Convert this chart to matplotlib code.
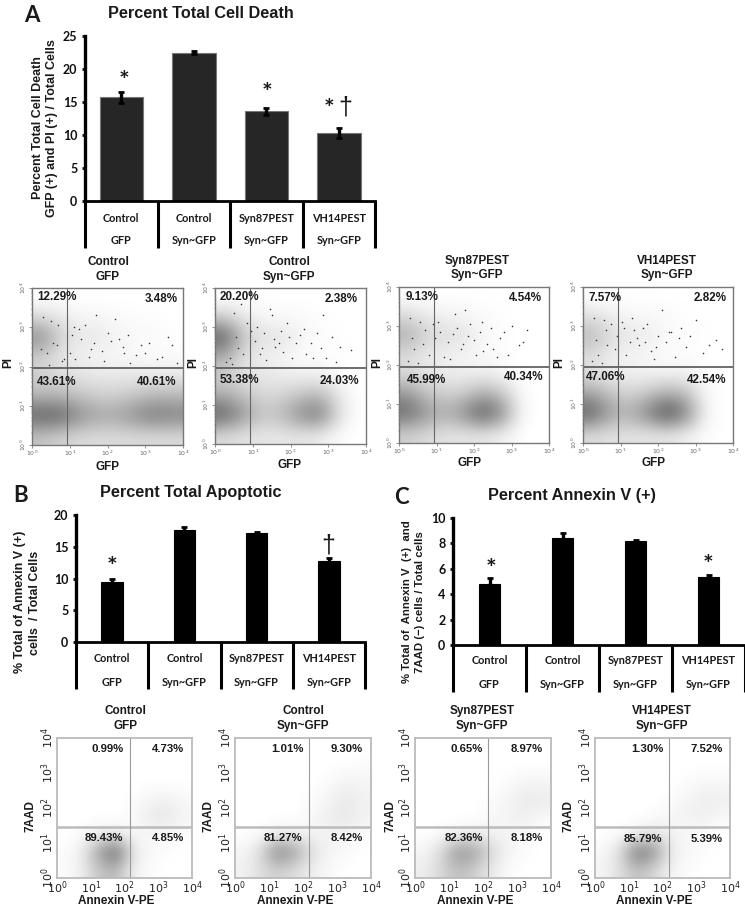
import matplotlib
matplotlib.use('Agg')
import matplotlib.pyplot as plt
from matplotlib.colors import LinearSegmentedColormap
import numpy as np

W, H = 745, 907
ARIAL = 'Liberation Sans'
CALIBRI = 'Lato'
plt.rcParams['mathtext.default'] = 'regular'

# bar charts
cat_top = ['Control', 'Control', 'Syn87PEST', 'VH14PEST']
cat_bottom = ['GFP', 'Syn~GFP', 'Syn~GFP', 'Syn~GFP']
death_vals = [15.7, 22.5, 13.6, 10.3]
death_errs = [0.8, 0.3, 0.5, 0.8]
apop_vals = [9.5, 17.6, 17.1, 12.8]
apop_errs = [0.5, 0.5, 0.3, 0.4]
annex_vals = [4.8, 8.4, 8.15, 5.35]
annex_errs = [0.45, 0.45, 0.1, 0.2]

# flow plots, PI vs GFP
pi_pct = [['12.29%', '3.48%', '43.61%', '40.61%'],
          ['20.20%', '2.38%', '53.38%', '24.03%'],
          ['9.13%', '4.54%', '45.99%', '40.34%'],
          ['7.57%', '2.82%', '47.06%', '42.54%']]
pi_gate_x = [0.93, 0.93, 0.93, 0.93]
pi_gate_y = [1.95, 1.95, 1.95, 1.95]

# estimated darkness of the dot clouds, half decade cells, top row first
pi_density = [
    [[0, 0, 0, 0, 0, 0, 0, 0],
     [1.5, 1, .4, .4, .2, .1, .1, 0],
     [5, 2, 1, 1, .5, .3, .2, .1],
     [2, 1, .6, .4, .3, .2, .1, .1],
     [2, 1.5, 1.2, 1, 1, 1, 1, 1],
     [3, 3, 2.5, 2, 2, 2.5, 3, 3],
     [7, 7, 5, 4, 4, 5, 6, 5.5],
     [2.5, 2, 1.5, 1.5, 1.5, 1.5, 1.5, 1.5]],
    [[0, 0, 0, 0, 0, 0, 0, 0],
     [2, 1, .3, .3, .2, .1, 0, 0],
     [7, 2.5, 1.2, 1.2, .5, .1, .1, 0],
     [3.5, 1.2, .7, .4, .1, .1, .1, 0],
     [2, 1.2, 1, .8, .6, .6, .2, 0],
     [3.5, 2.5, 1.6, 1.8, 2.5, 3, 1, 0],
     [7, 4.5, 2.5, 3, 5, 6, 1.5, 0],
     [1.5, 1.2, 1, 1, 1, .8, .1, 0]],
    [[0, 0, 0, 0, 0, 0, 0, 0],
     [1.5, .8, .5, .4, .2, .1, 0, 0],
     [3.5, 1.8, 1.5, 1.2, .3, .1, 0, 0],
     [1.5, .8, .6, .4, .2, .1, 0, 0],
     [1.5, 1, .8, .7, .7, .4, 0, 0],
     [4.5, 2.5, 2, 2.2, 3.5, 2.5, .2, 0],
     [6.5, 4.5, 3.5, 5, 7.5, 5, .3, 0],
     [2, 1.5, 1.2, 1, 1, .6, 0, 0]],
    [[0, 0, 0, 0, 0, 0, 0, 0],
     [1.2, .7, .3, .3, .2, .1, 0, 0],
     [3, 1.5, 1, .8, .2, .1, .1, 0],
     [1.5, .7, .5, .3, .1, .1, 0, 0],
     [1.2, .8, .6, .5, .5, .5, .1, 0],
     [4, 2.5, 1.8, 2.5, 3.5, 2.8, .3, 0],
     [7, 4, 3.5, 5.5, 8, 5.5, .5, 0],
     [1.5, 1.2, 1.2, 1, 1, .6, .1, 0]]]

# single cells picked out in the sparse upper part of each plot, log10 units
pi_dots_x = [[1.7, 2.2, 2.55, 2.9, 3.1, 3.45, 3.6, 1.3, 1.55, 2.0, 2.4, 2.75, 3.3, 1.9, 2.6, 1.1, 1.4, 1.15, 3.0, 2.1,
              .3, .5, .7, .85, .4, .65, 1.05, 1.25, 1.65, 1.85, 2.3, .25, .55, .8, 1.0, .45, 3.7, 3.85, 2.45, 1.5],
             [1.45, 1.9, 2.35, 2.7, 2.85, 3.1, 3.3, 1.2, 1.6, 2.05, 2.25, 2.8, 1.75, 1.35, 2.55, 1.5, 1.1, 2.95, 3.6, 3.2,
              .5, .7, .85, .4, .6, 1.05, 1.3, 1.55, 1.8, 2.15, 2.4, .3, .75, .95, .55, 1.7, 1.95, 2.6, .45, 1.25],
             [1.5, 1.9, 2.2, 2.45, 2.8, 3.0, 3.3, 3.4, 1.2, 1.65, 2.05, 2.35, 2.6, 1.75, 1.35, 1.05, 2.9, 3.2, 1.45, 2.7,
              .3, .55, .8, .4, .65, .95, 1.1, 1.3, 1.55, 1.85, 2.15, 2.5, .25, .7, .9, .5, 1.7, 2.0, 2.25, .35],
             [1.3, 1.7, 2.1, 2.35, 2.6, 3.0, 3.35, 3.55, 1.15, 1.5, 1.9, 2.2, 2.45, 3.2, 1.35, 1.05, 2.75, 3.7, 1.6, 2.85,
              .3, .55, .75, .4, .65, .9, 1.1, 1.25, 1.45, 1.8, 2.0, 2.3, .25, .6, .85, .5, 1.65, 1.95, 2.55, .35]]
pi_dots_y = [[3.3, 3.2, 2.8, 2.55, 2.6, 2.25, 2.75, 2.7, 2.45, 2.85, 2.5, 2.3, 2.2, 2.15, 2.1, 3.0, 3.05, 2.2, 2.35, 2.65,
              3.25, 3.15, 3.05, 2.2, 2.35, 2.55, 2.8, 2.95, 2.6, 2.4, 2.7, 2.45, 2.6, 2.15, 2.35, 2.05, 2.55, 2.1, 2.35, 2.25],
             [3.45, 3.1, 2.95, 2.85, 3.3, 2.75, 2.5, 2.3, 2.5, 2.2, 2.8, 2.45, 2.9, 2.15, 2.6, 3.3, 3.0, 2.2, 2.4, 2.1,
              3.35, 3.6, 3.1, 2.2, 2.45, 2.65, 2.85, 2.7, 2.35, 2.6, 2.3, 2.1, 2.3, 2.9, 2.75, 2.6, 2.75, 2.2, 2.05, 2.45],
             [3.3, 3.05, 3.1, 2.95, 2.85, 3.0, 2.6, 2.9, 2.2, 2.4, 2.25, 2.55, 2.2, 3.4, 2.15, 3.1, 2.25, 2.5, 2.8, 2.7,
              3.2, 3.1, 2.25, 2.4, 2.55, 2.7, 2.85, 2.6, 2.95, 2.75, 2.85, 2.4, 2.1, 2.9, 3.05, 2.05, 2.55, 2.65, 2.35, 2.7],
             [3.2, 3.05, 3.4, 2.85, 2.95, 3.15, 2.5, 2.65, 2.25, 2.5, 2.15, 2.6, 2.2, 2.3, 2.9, 3.1, 2.45, 2.4, 2.95, 2.75,
              3.2, 3.15, 3.05, 2.25, 2.5, 2.75, 2.95, 2.6, 2.7, 2.35, 2.75, 2.85, 2.1, 2.9, 2.4, 2.05, 2.6, 2.45, 2.7, 2.65]]

# flow plots, 7AAD vs Annexin V-PE
ann_pct = [['0.99%', '4.73%', '89.43%', '4.85%'],
           ['1.01%', '9.30%', '81.27%', '8.42%'],
           ['0.65%', '8.97%', '82.36%', '8.18%'],
           ['1.30%', '7.52%', '85.79%', '5.39%']]
ann_gate_x = [2.16, 2.18, 2.16, 2.18]
ann_gate_y = [1.46, 1.46, 1.46, 1.46]
ann_density = [
    [[0, 0, 0, 0, 0, 0, 0, 0],
     [0, 0, 0, 0, 0, 0, 0, 0],
     [0, 0, 0, 0, 0, 0, 0, 0],
     [0, 0, 0, 0, .1, .3, .4, .2],
     [0, 0, 0, 0, .1, .7, .8, .3],
     [0, .1, .4, .5, .2, .2, .2, .1],
     [.1, .5, 3, 5, .7, .2, .1, 0],
     [.1, .5, 1.8, 2.2, .4, .1, 0, 0]],
    [[0, 0, 0, 0, 0, 0, 0, 0],
     [0, 0, 0, 0, 0, 0, 0, .1],
     [0, 0, 0, 0, 0, .1, .4, .3],
     [0, 0, 0, 0, .1, .3, .7, .4],
     [0, 0, 0, 0, .2, .5, .8, .4],
     [0, .1, .4, .4, .3, .4, .3, .1],
     [.3, 1, 4, 3, 1, .3, .2, 0],
     [.4, 1, 1.5, 1, .5, .2, 0, 0]],
    [[0, 0, 0, 0, 0, 0, 0, 0],
     [0, 0, 0, 0, 0, 0, 0, 0],
     [0, 0, 0, 0, 0, .1, .3, .3],
     [0, 0, 0, 0, .1, .3, .7, .6],
     [0, 0, 0, 0, .2, .4, .5, .2],
     [0, .1, .3, .5, .4, .3, .2, 0],
     [.3, 1, 3.5, 3, 1.2, .3, .1, 0],
     [.5, 1.2, 2, 1.5, .6, .1, 0, 0]],
    [[0, 0, 0, 0, 0, 0, 0, 0],
     [0, 0, 0, 0, 0, 0, 0, 0],
     [0, 0, 0, 0, 0, .1, .2, .2],
     [0, 0, 0, 0, .1, .3, .6, .5],
     [0, 0, 0, .1, .3, .4, .5, .2],
     [0, .1, .3, .8, .4, .2, .1, 0],
     [.2, 1, 4.5, 3.5, .6, .2, .1, 0],
     [.3, 1, 2, 1.2, .3, .1, 0, 0]]]

fig = plt.figure(figsize=(W / 100, H / 100), dpi=100)
smoke = LinearSegmentedColormap.from_list('smoke', ['#ffffff', '#2e2e2e'])
log_minor = [k + np.log10(m) for k in range(4) for m in range(2, 10)]


def px_axes(left, top, right, bottom):
    return fig.add_axes([left / W, 1 - bottom / H, (right - left) / W, (bottom - top) / H])


def ftext(x, y, s, size=8.5, font=ARIAL, weight='bold', color='#1a1a1a', rotation=0):
    fig.text(x / W, 1 - y / H, s, fontsize=size, family=font, fontweight=weight, color=color,
             rotation=rotation, ha='center', va='center')


def bar_panel(box, vals, errs, ymax, step, barw, color, row_y, table_bottom):
    left, top, right, bottom = box
    ax = px_axes(left, top, right, bottom)
    xs = np.arange(len(vals))
    ax.bar(xs, vals, width=barw, color=color, edgecolor='#777777' if color != 'black' else 'black', linewidth=0.8)
    ax.errorbar(xs, vals, yerr=errs, fmt='none', ecolor='black', elinewidth=2.4, capsize=2.2, capthick=2)
    ax.set_xlim(-0.5, len(vals) - 0.5)
    ax.set_ylim(0, ymax)
    ax.set_xticks([])
    ax.set_yticks(np.arange(0, ymax + step, step))
    ax.tick_params(axis='y', length=2.5, width=2, pad=3, labelsize=9, colors='#111111')
    for lab in ax.get_yticklabels():
        lab.set_family(CALIBRI)
        lab.set_fontweight('bold')
    for side in ['top', 'right']:
        ax.spines[side].set_visible(False)
    ax.spines['left'].set_linewidth(2.4)
    ax.spines['bottom'].set_linewidth(2)
    depth = (table_bottom - bottom) / (bottom - top)
    for i in range(len(vals) + 1):
        ax.plot([i - 0.5, i - 0.5], [0, -depth * ymax], color='black', lw=2.2, clip_on=False,
                solid_capstyle='butt')
    for i in range(len(vals)):
        cx = left + (i + 0.5) * (right - left) / len(vals)
        ftext(cx, row_y[0], cat_top[i], size=7.8, font=CALIBRI)
        ftext(cx, row_y[1], cat_bottom[i], size=7.8, font=CALIBRI)
    return ax


def flow_panel(box, density, gate_x, gate_y, vmax, frame, gate_h, gate_v, tiny):
    left, top, right, bottom = box
    ax = px_axes(left, top, right, bottom)
    ax.imshow(density, extent=[0, 4, 0, 4], origin='upper', aspect='auto', cmap=smoke,
              vmin=0, vmax=vmax, interpolation='bicubic')
    ax.set_xlim(0, 4)
    ax.set_ylim(0, 4)
    ax.axhline(gate_y, color=gate_h[0], lw=gate_h[1])
    ax.axvline(gate_x, color=gate_v[0], lw=gate_v[1])
    ticks = [0, 1, 2, 3, 4]
    labels = ['$10^{%d}$' % t for t in ticks]
    ax.set_xticks(ticks, labels)
    ax.set_yticks(ticks, labels, rotation=90, va='center')
    for side in ax.spines.values():
        side.set_color(frame[0])
        side.set_linewidth(frame[1])
    if tiny:
        ax.set_xticks(log_minor, minor=True)
        ax.set_yticks(log_minor, minor=True)
        ax.tick_params(which='major', length=2, width=0.5, labelsize=4.5, pad=1, colors='#666666')
        ax.tick_params(which='minor', length=1, width=0.3, colors='#666666')
    else:
        ax.tick_params(length=0, labelsize=8, pad=1, labelcolor='#222222')
    return ax


# panel A
bar_panel((85, 36, 375, 201), death_vals, death_errs, 25, 5, 0.6, '#262626', (218, 241), 248)
ftext(32, 16, 'A', size=16, font=CALIBRI)
ftext(201, 14, 'Percent Total Cell Death', size=11.7)
ftext(38, 128, 'Percent Total Cell Death', size=9, rotation=90)
ftext(52, 128, 'GFP (+) and PI (+) / Total Cells', size=9, rotation=90)
ftext(124, 81, '*', size=18, font=CALIBRI)
ftext(267, 94, '*', size=18, font=CALIBRI)
ftext(329, 109, '*', size=18, font=CALIBRI)
ftext(345, 108, '†', size=18, font=ARIAL, weight='normal')

# panel B
bar_panel((76, 515, 365, 642), apop_vals, apop_errs, 20, 5, 0.3, 'black', (658, 682), 689)
ftext(21, 496, 'B', size=16, font=CALIBRI)
ftext(191, 492, 'Percent Total Apoptotic', size=11.7)
ftext(20, 602, '% Total of Annexin V (+)', size=9, rotation=90)
ftext(35, 603, 'cells  / Total Cells', size=9, rotation=90)
ftext(112, 568, '*', size=18, font=CALIBRI)
ftext(328, 546, '†', size=18, font=ARIAL, weight='normal')

# panel C
bar_panel((453, 518, 745, 645), annex_vals, annex_errs, 10, 2, 0.3, 'black', (661, 684), 692)
ftext(401, 497, 'C', size=16, font=CALIBRI)
ftext(572, 495, 'Percent Annexin V (+)', size=11.7)
ftext(407, 602, '% Total of  Annexin V  (+)  and', size=8.2, rotation=90)
ftext(420, 602, '7AAD (\u2212) cells / Total cells', size=8.2, rotation=90)
ftext(491, 570, '*', size=18, font=CALIBRI)
ftext(708, 566, '*', size=18, font=CALIBRI)

# PI vs GFP row
pi_boxes = [(32, 288, 183, 445), (215, 288, 366, 444), (399, 287, 549, 443), (583, 287, 733, 443)]
pi_head = [(108, 262, 277), (289, 262, 277), (477, 261, 275), (667, 261, 275)]
pi_xlab = [(107, 467), (289, 465), (469, 463), (654, 463)]
pi_ylab = [(8, 363), (193, 363), (377, 363), (559, 363)]
pi_txt = [[(57, 297), (161, 299), (57, 382), (157, 382)],
          [(239, 297), (341, 299), (239, 380), (339, 381)],
          [(422, 297), (525, 298), (426, 380), (524, 377)],
          [(605, 298), (710, 298), (606, 377), (707, 380)]]
for i in range(4):
    ax = flow_panel(pi_boxes[i], pi_density[i], pi_gate_x[i], pi_gate_y[i], 9,
                    ('#777777', 1.0), ('#555555', 1.2), ('#666666', 0.8), True)
    ax.scatter(pi_dots_x[i], pi_dots_y[i], s=1.3, color='#333333', linewidths=0)
    ftext(pi_head[i][0], pi_head[i][1], cat_top[i], size=8.5)
    ftext(pi_head[i][0], pi_head[i][2], cat_bottom[i], size=8.5)
    ftext(pi_xlab[i][0], pi_xlab[i][1], 'GFP', size=8.5)
    ftext(pi_ylab[i][0], pi_ylab[i][1], 'PI', size=8.5, rotation=90)
    for (tx, ty), s in zip(pi_txt[i], pi_pct[i]):
        ftext(tx, ty, s, size=8.4)

# 7AAD vs Annexin row
ann_boxes = [(57, 738, 192, 878), (235, 738, 371, 878), (415, 738, 551, 878), (595, 738, 730, 878)]
ann_head = [125, 303, 482, 662]
ann_xlab = [116, 295, 475, 654]
ann_ylab = [31, 209, 390, 569]
ann_txt = [[(108, 749), (168, 749), (104, 838), (168, 838)],
           [(287, 749), (347, 749), (283, 838), (347, 838)],
           [(467, 749), (527, 749), (464, 838), (527, 838)],
           [(647, 749), (707, 749), (643, 839), (707, 839)]]
for i in range(4):
    flow_panel(ann_boxes[i], ann_density[i], ann_gate_x[i], ann_gate_y[i], 6.5,
               ('#bbbbbb', 1.3), ('#bbbbbb', 1.8), ('#999999', 0.8), False)
    ftext(ann_head[i], 711, cat_top[i], size=8.5)
    ftext(ann_head[i], 726, cat_bottom[i], size=8.5)
    ftext(ann_xlab[i], 901, 'Annexin V-PE', size=8.5)
    ftext(ann_ylab[i], 816, '7AAD', size=8.5, rotation=90)
    for (tx, ty), s in zip(ann_txt[i], ann_pct[i]):
        ftext(tx, ty, s, size=8.2)

fig.savefig('out.png', dpi=100)
